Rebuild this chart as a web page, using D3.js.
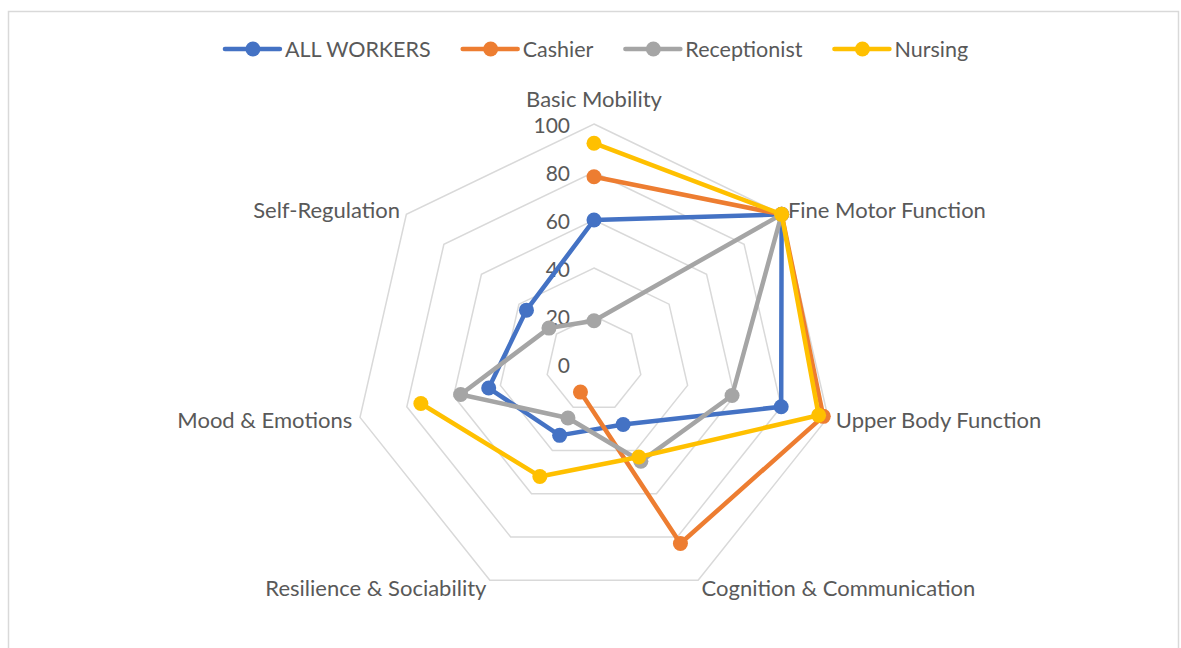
<!DOCTYPE html>
<html>
<head>
<meta charset="utf-8">
<script src="https://cdn.jsdelivr.net/npm/d3@7"></script>
<style>
  body { margin: 0; background: #fff; }
  svg text { font-family: Lato, "Open Sans", sans-serif; fill: #595959; }
</style>
</head>
<body>
<svg id="chart" width="1181" height="648"></svg>
<script>
let width = 1181;
let height = 648;

const categories = ["Basic Mobility", "Fine Motor Function", "Upper Body Function",
	"Cognition & Communication", "Resilience & Sociability", "Mood & Emotions", "Self-Regulation"];
const ticks = [0, 20, 40, 60, 80, 100];

const seriesNames = ["ALL WORKERS", "Cashier", "Receptionist", "Nursing"];
const allWorkers = [60, 100, 80, 28, 33, 45, 36];
const cashier = [78, 100, 98, 83, 13, null, null];
const receptionist = [18, 100, 59, 45, 25, 57, 24];
const nursing = [92, 100, 96, 43, 52, 74, null];

const colors = ["#4472C4", "#ED7D31", "#A5A5A5", "#FFC000"];

let cx = 594, cy = 364, R = 240;

// small stand-in for d3-selection-multi
d3.selection.prototype.attrs = function(map) {
	for (const k in map) this.attr(k, map[k]);
	return this;
};

function main() {
	const svg = d3.select("#chart");
	const series = [allWorkers, cashier, receptionist, nursing];

	// chart border
	svg.append("rect")
		.attrs({x: 8.5, y: 11.5, width: 1170, height: 660, fill: "none", stroke: "#D9D9D9", "stroke-width": 1.5});

	const r = d3.scaleLinear().domain([0, 100]).range([0, R]);
	const angle = d3.scaleLinear().domain([0, categories.length]).range([0, 2 * Math.PI]);

	const g = svg.append("g").attr("transform", `translate(${cx},${cy})`);

	// grid rings
	const ring = d3.lineRadial()
		.angle((d, i) => angle(i))
		.radius(d => r(d))
		.curve(d3.curveLinearClosed);
	g.selectAll("path.grid")
		.data(ticks.filter(t => t > 0)).enter()
		.append("path")
		.attrs({
			class: "grid",
			d: t => ring(categories.map(() => t)),
			fill: "none",
			stroke: "#D9D9D9",
			"stroke-width": 1.5
		});

	// tick labels
	g.selectAll("text.tick")
		.data(ticks).enter()
		.append("text")
		.attrs({
			class: "tick",
			x: -24,
			y: t => -r(t),
			"text-anchor": "end",
			"dominant-baseline": "central",
			"font-size": 21
		})
		.text(t => t);

	// category labels
	g.selectAll("text.cat")
		.data(categories).enter()
		.append("text")
		.each(function(d, i) {
			const a = angle(i);
			const s = Math.sin(a), c = Math.cos(a);
			const top = Math.abs(s) < 0.01;
			const rr = R + (top ? 26 : 8);
			d3.select(this).attrs({
				class: "cat",
				x: rr * s,
				y: -rr * c,
				"text-anchor": top ? "middle" : (s > 0 ? "start" : "end"),
				"dominant-baseline": "central",
				"font-size": 22
			});
		})
		.text(d => d);

	// series lines (wrap first point to close, gaps stay open)
	const line = d3.lineRadial()
		.defined(d => d.v !== null)
		.angle(d => angle(d.i))
		.radius(d => r(d.v));

	series.forEach((vals, k) => {
		const pts = vals.map((v, i) => ({v: v, i: i}));
		const closed = pts.concat([{v: vals[0], i: vals.length}]);
		g.append("path")
			.attrs({
				d: line(closed),
				fill: "none",
				stroke: colors[k],
				"stroke-width": 4.5,
				"stroke-linejoin": "round"
			});
		g.selectAll(null)
			.data(pts.filter(p => p.v !== null)).enter()
			.append("circle")
			.attrs({
				cx: p => r(p.v) * Math.sin(angle(p.i)),
				cy: p => -r(p.v) * Math.cos(angle(p.i)),
				r: 7.5,
				fill: colors[k]
			});
	});

	// legend
	const legend = svg.append("g");
	let items = [];
	seriesNames.forEach((name, k) => {
		const it = legend.append("g");
		it.append("line").attrs({x1: 0, x2: 55, y1: 0, y2: 0, stroke: colors[k], "stroke-width": 4.5, "stroke-linecap": "round"});
		it.append("circle").attrs({cx: 28, cy: 0, r: 7.5, fill: colors[k]});
		const t = it.append("text").attrs({x: 60, y: 0, "dominant-baseline": "central", "font-size": 21.5}).text(name);
		items.push({g: it, w: 60 + t.node().getComputedTextLength()});
	});
	const gap = 32;
	const total = d3.sum(items, d => d.w) + gap * (items.length - 1);
	let x0 = width / 2 + 6 - total / 2;
	items.forEach(d => {
		d.g.attr("transform", `translate(${x0},49)`);
		x0 += d.w + gap;
	});
}

main();
</script>
</body>
</html>
